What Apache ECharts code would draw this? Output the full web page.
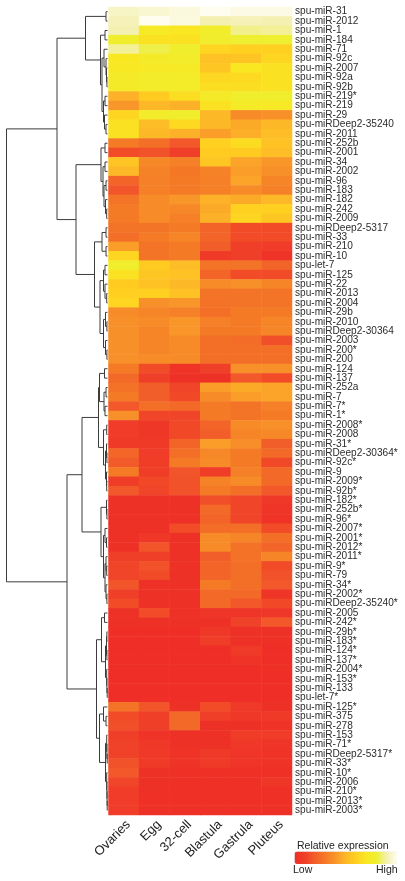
<!DOCTYPE html>
<html><head><meta charset="utf-8">
<style>html,body{margin:0;padding:0;background:#fff}#c{width:405px;height:881px}</style>
<script src="https://cdn.jsdelivr.net/npm/echarts@6/dist/echarts.min.js"></script>
</head><body><div id="c"></div>
<script>
const stages = ['Ovaries','Egg','32-cell','Blastula','Gastrula','Pluteus'];
const miRNAs = ['spu-miR-31','spu-miR-2012','spu-miR-1','spu-miR-184','spu-miR-71','spu-miR-92c','spu-miR-2007','spu-miR-92a','spu-miR-92b','spu-miR-219*',
'spu-miR-219','spu-miR-29','spu-miRDeep2-35240','spu-miR-2011','spu-miR-252b','spu-miR-2001','spu-miR-34','spu-miR-2002','spu-miR-96','spu-miR-183',
'spu-miR-182','spu-miR-242','spu-miR-2009','spu-miRDeep2-5317','spu-miR-33','spu-miR-210','spu-miR-10','spu-let-7','spu-miR-125','spu-miR-22',
'spu-miR-2013','spu-miR-2004','spu-miR-29b','spu-miR-2010','spu-miRDeep2-30364','spu-miR-2003','spu-miR-200*','spu-miR-200','spu-miR-124','spu-miR-137',
'spu-miR-252a','spu-miR-7','spu-miR-7*','spu-miR-1*','spu-miR-2008*','spu-miR-2008','spu-miR-31*','spu-miRDeep2-30364*','spu-miR-92c*','spu-miR-9',
'spu-miR-2009*','spu-miR-92b*','spu-miR-182*','spu-miR-252b*','spu-miR-96*','spu-miR-2007*','spu-miR-2001*','spu-miR-2012*','spu-miR-2011*','spu-miR-9*',
'spu-miR-79','spu-miR-34*','spu-miR-2002*','spu-miRDeep2-35240*','spu-miR-2005','spu-miR-242*','spu-miR-29b*','spu-miR-183*','spu-miR-124*','spu-miR-137*',
'spu-miR-2004*','spu-miR-153*','spu-miR-133','spu-let-7*','spu-miR-125*','spu-miR-375','spu-miR-278','spu-miR-153','spu-miR-71*','spu-miRDeep2-5317*',
'spu-miR-33*','spu-miR-10*','spu-miR-2006','spu-miR-210*','spu-miR-2013*','spu-miR-2003*'];
const ovaries = [93,91,90,78,88,70,71,74,74,48,40,62,68,68,30,14,55,50,22,17,28,30,30,28,26,42,62,78,68,58,60,62,36,38,38,38,38,38,30,24,27,30,18,38,8,8,7,23,19,30,9,18,2,2,2,2,2,2,10,12,12,17,10,14,2,2,0,0,0,0,0,0,0,0,28,14,15,10,11,11,16,18,12,8,8,8];
const egg = [95,100,73,68,82,74,72,76,76,58,50,76,52,50,26,16,35,33,32,32,36,36,36,28,30,28,28,58,56,54,60,38,34,36,34,34,34,36,14,10,20,20,26,12,5,5,7,8,9,9,13,12,2,2,2,2,6,17,10,16,14,2,2,2,14,2,0,0,0,0,0,0,0,0,17,10,10,3,6,7,7,2,2,1,1,1];
const cell32 = [97,97,70,68,78,76,73,75,75,66,48,78,64,48,18,10,32,29,30,30,40,35,32,30,34,30,30,52,54,50,54,40,32,40,40,36,36,36,3,2,12,13,24,12,13,13,22,26,30,17,16,16,2,2,2,14,2,2,2,2,2,2,2,2,2,2,0,0,0,0,0,0,0,0,2,24,24,2,2,3,3,1,1,1,1,1];
const blastula = [100,90,77,77,62,54,56,63,66,74,68,50,50,42,60,58,56,33,32,32,48,46,48,22,22,20,7,28,22,36,28,27,26,32,30,26,26,26,10,2,42,36,30,30,22,20,42,35,36,9,33,30,15,24,22,25,36,36,20,22,22,30,24,24,4,2,6,9,0,0,0,0,0,0,14,10,2,2,2,7,7,1,1,1,1,1];
const gastrula = [98,91,87,80,60,55,70,64,66,78,74,36,46,47,65,58,44,42,44,36,46,60,62,14,14,10,10,28,14,38,28,28,30,30,30,25,26,26,38,18,46,42,28,28,36,34,37,30,30,32,36,26,12,12,12,26,34,27,27,26,26,26,24,18,4,11,2,2,7,3,0,0,0,0,7,6,2,9,6,4,4,1,1,1,1,1];
const pluteus = [98,90,88,80,60,62,68,68,68,78,72,38,50,52,54,52,40,38,34,32,50,60,56,14,14,8,3,22,14,34,28,28,30,34,34,15,26,26,38,14,44,44,32,30,38,35,20,24,13,24,24,18,6,4,3,14,26,22,34,14,16,18,4,13,5,18,2,1,0,0,1,0,0,0,2,7,3,8,4,3,3,1,5,1,1,1];
const palette = ['#EE2E27','#F03F28','#F25E29','#F47A26','#F9962A','#FDB827','#FFD020','#F9E722','#EEEF30','#F4F0B2','#FEFDF0'];

// Dendrogram: [merge height, childA, childB]; numbers are row positions (1-based).
const upperClade = [51.5,[23,[2.5,1,2],[8,[3.5,3,4],[6.5,[4.5,5,[2.5,6,[2,7,[1.6,8,9]]]],[5,[3.5,10,11],[4,12,[2.5,13,14]]]]]],[32.5,[7.5,[3.5,15,16],[5.5,[3.5,17,18],[4.5,[2.5,19,20],[3,21,[1.8,22,23]]]]],[14,[6.5,[2.5,24,25],[2.5,26,27]],[8.5,[5,[3.5,28,29],[3.5,30,[1.8,31,32]]],[5,[3,33,[1.6,34,35]],[3,36,[1.6,37,38]]]]]]];
const lowerClade = [41.5,[26.5,[10,[9,[4,39,40],[4.5,[2.5,41,42],[3.5,43,44]]],[5,[1.8,45,46],[3,[2,47,[1.6,48,49]],[2,50,[1.8,51,52]]]]],[7.5,[2,53,[1.6,54,55]],[5,[3.5,56,[2,57,58]],[3.5,[2.5,59,[1.8,60,61]],[2.5,62,[1.6,63,64]]]]]],[12,[7,[4,65,66],[3,[2,[1.6,67,68],[1.6,69,70]],[1.8,71,[1.6,72,[1.3,73,74]]]]],[9,[5,75,[2.5,76,77]],[3,[1.8,78,[1.6,79,[1.3,80,81]]],[1.8,82,[1.6,83,[1.4,84,[1.3,85,86]]]]]]]];
const rootHeight = 102;
const leafHeight = 1;

const cols = [ovaries,egg,cell32,blastula,gastrula,pluteus];
const heat = [];
cols.forEach((c,x)=>c.forEach((v,y)=>heat.push([x,y,v])));
const segs = [];
function walk(n){
  if (typeof n === 'number') return {h:leafHeight,y:n-0.5};
  const a=walk(n[1]), b=walk(n[2]), h=n[0];
  segs.push([a.h,a.y,h,a.y],[b.h,b.y,h,b.y],[h,a.y,h,b.y]);
  return {h:h,y:(a.y+b.y)/2};
}
walk([rootHeight,upperClade,lowerClade]);

const FONT='"Liberation Sans", Arial, sans-serif';
const chart = echarts.init(document.getElementById('c'),null,{renderer:'canvas'});
chart.setOption({
  animation:false, backgroundColor:'#fff',
  grid:[
    {left:108.5,top:7,width:183.5,height:808,containLabel:false},
    {left:0,top:7,width:108.5,height:808}
  ],
  xAxis:[
    {type:'category',gridIndex:0,data:stages,position:'bottom',axisLine:{show:false},axisTick:{show:false},splitLine:{show:false},
     axisLabel:{rotate:45,verticalAlign:'top',fontSize:13,fontFamily:FONT,color:'#222',margin:3,interval:0}},
    {type:'value',gridIndex:1,min:0,max:108.5,inverse:true,show:false}
  ],
  yAxis:[
    {type:'category',gridIndex:0,data:miRNAs,inverse:true,position:'right',axisLine:{show:false},axisTick:{show:false},splitLine:{show:false},
     axisLabel:{fontSize:10.1,fontFamily:FONT,color:'#2c2c2c',margin:3,interval:0}},
    {type:'value',gridIndex:1,min:0,max:86,inverse:true,show:false}
  ],
  visualMap:{type:'continuous',seriesIndex:0,min:0,max:100,orient:'horizontal',left:294.5,top:851.5,itemWidth:12.5,itemHeight:102.5,padding:0,
    calculable:false,realtime:false,text:null,showLabel:false,inRange:{color:palette},handleStyle:{opacity:0},indicatorStyle:{opacity:0},hoverLink:false},
  series:[
    {type:'heatmap',xAxisIndex:0,yAxisIndex:0,data:heat,progressive:0,itemStyle:{borderWidth:0}},
    {type:'custom',xAxisIndex:1,yAxisIndex:1,data:segs,encode:{x:[0,2],y:[1,3]},silent:true,
     renderItem:(p,api)=>{
       const a=api.coord([api.value(0),api.value(1)]), b=api.coord([api.value(2),api.value(3)]);
       return {type:'line',shape:{x1:a[0],y1:a[1],x2:b[0],y2:b[1]},style:{stroke:'#3c3c3c',lineWidth:1}};
     }}
  ],
  graphic:[
    {type:'text',left:297,top:841,style:{text:'Relative expression',font:'10.5px '+FONT,fill:'#222'}},
    {type:'text',left:293,top:864.5,style:{text:'Low',font:'10.5px '+FONT,fill:'#222'}},
    {type:'text',left:376,top:864.5,style:{text:'High',font:'10.5px '+FONT,fill:'#222'}}
  ]
});
</script></body></html>
